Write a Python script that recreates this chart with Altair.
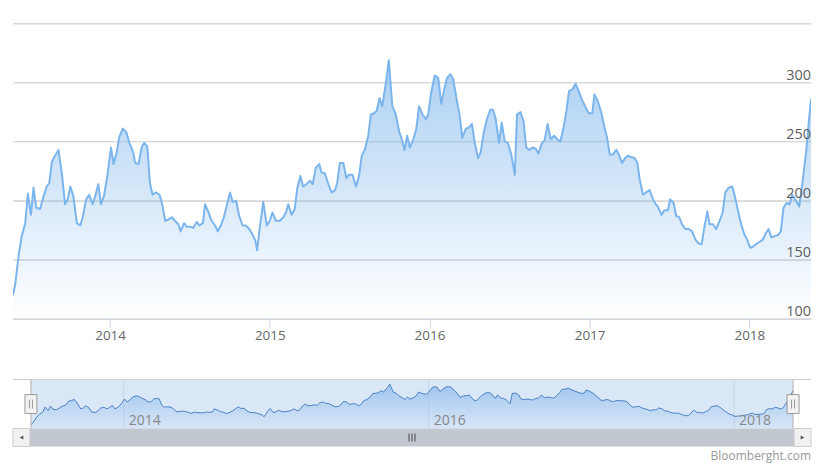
import altair as alt
import pandas as pd

# ---------------- data ----------------
# observation dates as days counted from 2014-01-01, with the index value
days_2013 = [-222, -217, -209, -202, -194, -188, -181, -175, -169, -160,
             -152, -145, -139, -133, -126, -118, -110, -103, -97, -91,
             -84, -76, -68, -62, -55, -48, -40, -34, -27, -21, -14, -6]
vals_2013 = [120, 129, 154, 170, 181, 206, 188, 211, 194, 193,
             204, 212, 215, 233, 238, 243, 222, 197, 201, 212,
             204, 181, 179, 187, 201, 205, 197, 204, 214, 197, 204, 222]

days_2014 = [2, 8, 15, 21, 29, 37, 44, 53, 57, 65,
             72, 78, 85, 91, 97, 105, 113, 119, 126, 133,
             141, 148, 156, 161, 169, 175, 183, 190, 198, 204,
             212, 217, 224, 232, 240, 246, 253, 260, 266, 274,
             280, 288, 295, 303, 310, 318, 326, 332, 336, 342, 350, 358]
vals_2014 = [245, 231, 241, 254, 261, 258, 249, 241, 232, 231,
             245, 249, 246, 215, 205, 207, 205, 197, 183, 184,
             186, 183, 180, 174, 181, 178, 178, 177, 182, 179,
             181, 197, 191, 183, 179, 174, 179, 186, 195, 207,
             199, 200, 187, 179, 179, 176, 171, 166, 158, 177, 199, 179]

days_2015 = [365, 371, 379, 388, 396, 402, 407, 415, 422, 428,
             435, 441, 449, 457, 463, 470, 478, 483, 491, 498,
             506, 514, 519, 525, 533, 540, 546, 554, 562, 569,
             575, 582, 590, 596, 603, 609, 616, 622, 630, 637,
             645, 653, 661, 666, 673, 679, 685, 693, 700, 706,
             714, 722, 727]
vals_2015 = [183, 190, 183, 183, 186, 190, 197, 188, 193, 211,
             221, 212, 214, 217, 214, 228, 231, 224, 223, 215,
             207, 209, 215, 232, 232, 219, 222, 222, 212, 221,
             238, 243, 255, 273, 274, 276, 287, 280, 299, 319,
             280, 273, 258, 253, 243, 255, 245, 252, 261, 280,
             273, 269, 273]

days_2016 = [734, 742, 750, 757, 763, 770, 778, 784, 792, 799,
             805, 813, 820, 827, 833, 841, 847, 854, 862, 869,
             875, 881, 889, 895, 902, 909, 917, 925, 930, 938,
             945, 951, 959, 965, 973, 979, 986, 993, 1000, 1007,
             1015, 1022, 1029, 1037, 1043, 1049, 1056, 1064, 1072, 1079,
             1087, 1094]
vals_2016 = [292, 306, 304, 282, 293, 304, 307, 303, 286, 272,
             253, 261, 262, 265, 250, 236, 241, 258, 270, 277,
             277, 270, 249, 266, 250, 249, 239, 222, 273, 275,
             267, 245, 243, 245, 244, 240, 248, 251, 265, 252,
             255, 252, 250, 263, 276, 293, 294, 299, 292, 285,
             279, 274]

days_2017 = [1102, 1107, 1115, 1123, 1130, 1136, 1142, 1149, 1157, 1163,
             1170, 1177, 1183, 1191, 1199, 1205, 1210, 1218, 1225, 1233,
             1241, 1247, 1252, 1260, 1267, 1275, 1280, 1288, 1294, 1301,
             1307, 1315, 1323, 1330, 1338, 1344, 1352, 1358, 1365, 1370,
             1378, 1385, 1393, 1400, 1406, 1414, 1422, 1429, 1437, 1444,
             1450, 1455]
vals_2017 = [274, 290, 284, 274, 262, 253, 239, 239, 243, 239,
             232, 236, 238, 237, 236, 232, 219, 205, 207, 209,
             201, 197, 195, 188, 192, 192, 201, 198, 187, 186,
             180, 176, 176, 174, 167, 164, 163, 177, 191, 180,
             180, 176, 183, 190, 207, 211, 212, 202, 188, 178,
             171, 168]

days_2018 = [1463, 1469, 1476, 1484, 1492, 1498, 1505, 1511, 1519, 1527,
             1533, 1539, 1546, 1553, 1559, 1566, 1575, 1583, 1591, 1597, 1602]
vals_2018 = [160, 161, 163, 165, 167, 172, 176, 169, 170, 171,
             174, 194, 198, 197, 205, 201, 195, 217, 242, 267, 286]

main_years = [2014, 2015, 2016, 2017, 2018]
nav_years = [2014, 2016, 2018]
grid_values = [100, 150, 200, 250, 300, 350]
label_values = [100, 150, 200, 250, 300]
credit_text = "Bloomberght.com"

# ---------------- build tables ----------------
day_offset = days_2013 + days_2014 + days_2015 + days_2016 + days_2017 + days_2018
index_value = vals_2013 + vals_2014 + vals_2015 + vals_2016 + vals_2017 + vals_2018
assert len(day_offset) == len(index_value)

base = pd.Timestamp("2014-01-01")
dates = base + pd.to_timedelta(day_offset, unit="D")
df = pd.DataFrame({"date": dates.strftime("%Y-%m-%dT00:00:00"), "value": index_value})


def dt(ts):
    return alt.DateTime(year=int(ts.year), month=int(ts.month), date=int(ts.day))


first, last = dates[0], dates[-1]
nav_pad = pd.Timedelta(days=43)
FONT = "Open Sans"
W, H, NH = 800, 296, 49
LINE = "#7cb5ec"
Y_MIN = 100

main_grad = alt.Gradient(
    gradient="linear",
    stops=[alt.GradientStop(color="rgba(124,181,236,0.92)", offset=0),
           alt.GradientStop(color="rgba(124,181,236,0)", offset=1)],
    x1=1, x2=1, y1=0, y2=1)

xmain = alt.Scale(domain=[dt(first), dt(last)])
ymain = alt.Scale(domain=[Y_MIN, 350], zero=False)
yaxis = alt.Axis(values=grid_values, grid=True, gridColor="#d8d8d8", gridWidth=1,
                 labels=False, ticks=False, domain=False, title=None)

grid_layer = alt.Chart(pd.DataFrame({"g": grid_values})).mark_rule(
    color="#d8d8d8", strokeWidth=1
).encode(
    y=alt.Y("g:Q", scale=ymain, axis=yaxis),
    x=alt.value(0), x2=alt.value(W),
)

area = alt.Chart(df).mark_area(
    line={"color": LINE, "strokeWidth": 2, "strokeJoin": "round"},
    color=main_grad, clip=True,
).encode(
    x=alt.X("date:T", scale=xmain, title=None,
            axis=alt.Axis(values=[alt.DateTime(year=y, month=1, date=1) for y in main_years],
                          format="%Y", grid=False, domainColor="#ccd6eb", tickColor="#ccd6eb",
                          tickSize=8, labelPadding=2, labelFontSize=13.5, labelColor="#666666",
                          labelFont=FONT, labelFlush=False, labelOverlap=False)),
    y=alt.Y("value:Q", scale=ymain, axis=yaxis),
    y2=alt.datum(Y_MIN),
)

ylabels = alt.Chart(pd.DataFrame({"tick": label_values})).mark_text(
    align="right", baseline="alphabetic", dy=-3, fontSize=14.5, font=FONT, color="#606060"
).encode(
    x=alt.value(W),
    y=alt.Y("tick:Q", scale=ymain, axis=yaxis),
    text=alt.Text("tick:Q"),
)

main = alt.layer(grid_layer, area, ylabels).properties(width=W, height=H)

# ---------------- navigator ----------------
xnav = alt.Scale(domain=[dt(first - nav_pad), dt(last + nav_pad)])
ynav = alt.Scale(domain=[Y_MIN, 341], zero=False)
span = pd.DataFrame({"start": [first.strftime("%Y-%m-%dT00:00:00")],
                     "end": [last.strftime("%Y-%m-%dT00:00:00")]})
edges = pd.DataFrame({"d": [first.strftime("%Y-%m-%dT00:00:00"), last.strftime("%Y-%m-%dT00:00:00")]})
navyr = pd.DataFrame({"d": [f"{y}-01-01T00:00:00" for y in nav_years], "label": [str(y) for y in nav_years]})

nav_bg = alt.Chart(span).mark_rect(color="#dae7f7").encode(
    x=alt.X("start:T", scale=xnav, axis=None), x2="end:T",
    y=alt.value(0), y2=alt.value(NH))

nav_grid = alt.Chart(navyr).mark_rule(color="#c8d6e8", strokeWidth=1).encode(
    x=alt.X("d:T", scale=xnav, axis=None), y=alt.value(0), y2=alt.value(NH))

nav_grad = alt.Gradient(
    gradient="linear",
    stops=[alt.GradientStop(color="rgba(110,168,232,0.8)", offset=0),
           alt.GradientStop(color="rgba(124,181,236,0.05)", offset=1)],
    x1=1, x2=1, y1=0, y2=1)

nav_area = alt.Chart(df).mark_area(
    line={"color": "#4a80c4", "strokeWidth": 1}, color=nav_grad, clip=True
).encode(
    x=alt.X("date:T", scale=xnav, axis=None),
    y=alt.Y("value:Q", scale=ynav, axis=None),
    y2=alt.datum(Y_MIN))

nav_text = alt.Chart(navyr).mark_text(
    align="left", baseline="alphabetic", dx=5, fontSize=14, font=FONT, color="#888888"
).encode(x=alt.X("d:T", scale=xnav, axis=None), y=alt.value(45), text="label:N")

nav_top = alt.Chart(span).mark_rule(color="#cccccc").encode(
    x=alt.value(0), x2=alt.value(W), y=alt.value(0))

nav_edges = alt.Chart(edges).mark_rule(color="#b0b0b0").encode(
    x=alt.X("d:T", scale=xnav, axis=None), y=alt.value(0), y2=alt.value(NH))

handles = alt.Chart(edges).mark_rect(
    fill="#f2f2f2", stroke="#999999", strokeWidth=1, xOffset=-6, x2Offset=6
).encode(x=alt.X("d:T", scale=xnav, axis=None), x2="d:T", y=alt.value(15), y2=alt.value(34))

grip_l = alt.Chart(edges).mark_rule(color="#999999", xOffset=-1.5).encode(
    x=alt.X("d:T", scale=xnav, axis=None), y=alt.value(20), y2=alt.value(29))
grip_r = alt.Chart(edges).mark_rule(color="#999999", xOffset=1.5).encode(
    x=alt.X("d:T", scale=xnav, axis=None), y=alt.value(20), y2=alt.value(29))

# scrollbar chrome
track = alt.Chart(span).mark_rect(fill="#c1c8d0").encode(
    x=alt.value(0), x2=alt.value(W), y=alt.value(NH), y2=alt.value(NH + 18))
btn_l = alt.Chart(span).mark_rect(fill="#f1f1f1", stroke="#cccccc").encode(
    x=alt.value(0), x2=alt.value(17), y=alt.value(NH), y2=alt.value(NH + 18))
btn_r = alt.Chart(span).mark_rect(fill="#f1f1f1", stroke="#cccccc").encode(
    x=alt.value(W - 17), x2=alt.value(W), y=alt.value(NH), y2=alt.value(NH + 18))
arr_l = alt.Chart(span).mark_point(shape="triangle-left", filled=True, size=18, color="#555555", opacity=1).encode(
    x=alt.value(8.5), y=alt.value(NH + 9))
arr_r = alt.Chart(span).mark_point(shape="triangle-right", filled=True, size=18, color="#555555", opacity=1).encode(
    x=alt.value(W - 8.5), y=alt.value(NH + 9))
grips = [alt.Chart(span).mark_rule(color="#444444").encode(
    x=alt.value(W / 2 - 3 + 3 * i), y=alt.value(NH + 5), y2=alt.value(NH + 13)) for i in range(3)]

credit = alt.Chart(span).mark_text(
    align="right", baseline="middle", fontSize=12, font=FONT, color="#999999"
).encode(x=alt.value(W), y=alt.value(NH + 28), text=alt.value(credit_text))

nav = alt.layer(nav_bg, nav_grid, nav_area, nav_text, nav_top, nav_edges, handles, grip_l, grip_r,
                track, btn_l, btn_r, arr_l, arr_r, *grips, credit).properties(width=W, height=NH)

chart = alt.vconcat(main, nav, spacing=36).properties(
    padding={"left": 4, "top": 14, "right": 5, "bottom": 5}
).configure(font=FONT).configure_view(stroke=None, strokeWidth=0)

chart.save("out.html", embed_options={"renderer": "svg", "actions": False})
